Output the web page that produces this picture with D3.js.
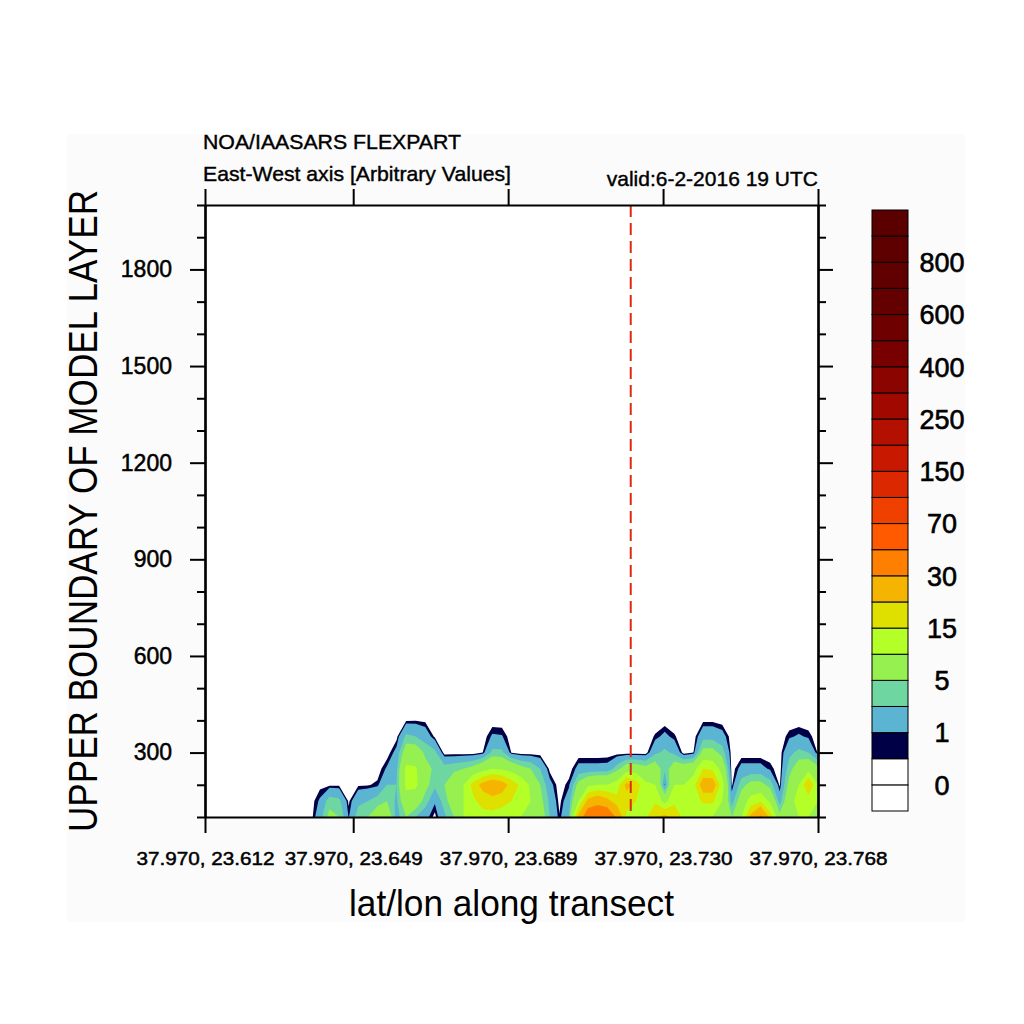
<!DOCTYPE html>
<html><head><meta charset="utf-8">
<script src="https://cdn.jsdelivr.net/npm/d3@7"></script>
<style>
body{margin:0;background:#fff}
svg{display:block}
</style>
</head><body>
<svg id="chart" width="1024" height="1024"></svg>
<script>
// ---------------- DATA ----------------
const titleMain = "NOA/IAASARS FLEXPART";
const titleSub = "East-West axis [Arbitrary Values]";
const titleValid = "valid:6-2-2016 19 UTC";
const xTitle = "lat/lon along transect";
const yTitle = "UPPER BOUNDARY OF MODEL LAYER";

// model layer heights (rows of the field, bottom to top)
const heights = [100, 150, 200, 250, 300, 350, 400, 450];

// concentration profiles along the transect (one per grid column, values at the heights above)
const profiles = [
  [0,0,0,0,0,0,0,0],[0,0,0,0,0,0,0,0],[0,0,0,0,0,0,0,0],[0,0,0,0,0,0,0,0],
  [0,0,0,0,0,0,0,0],[0,0,0,0,0,0,0,0],[0,0,0,0,0,0,0,0],[0,0,0,0,0,0,0,0],
  [0,0,0,0,0,0,0,0],[0,0,0,0,0,0,0,0],[0,0,0,0,0,0,0,0],[0,0,0,0,0,0,0,0],
  [2,1.2,0.2,0,0,0,0,0],
  [6,4,0.3,0,0,0,0,0],
  [5,3.5,0.3,0,0,0,0,0],
  [0.9,0.3,0,0,0,0,0,0],
  [4,2.5,0.35,0,0,0,0,0],
  [5,3,0.4,0,0,0,0,0],
  [7,4,0.7,0,0,0,0,0],
  [8,5,3,1.2,0,0,0,0],
  [2,2.5,3,2.5,1.5,0.2,0,0],
  [5,8,11,11,7,3.5,0.4,0],
  [3,7,11,10.5,7,3,0.45,0],
  [1.5,4,6,6,4.5,2,0.3,0],
  [0.2,1.2,3.5,4.5,3.5,0.3,0,0],
  [2.5,4,5,4,0,0,0,0],
  [5,7,7,4.5,0,0,0,0],
  [10,10,10,5,0,0,0,0],
  [12,14,17,6,0,0,0,0],
  [13,17,22,8,0.5,0,0,0],
  [13,18,25,10,3.5,1.2,0,0],
  [12,17,23,9,3.5,1.1,0,0],
  [11,15,18,8,0.4,0,0,0],
  [10,13,14,6,0,0,0,0],
  [9,10,9,5,0,0,0,0],
  [7,6,5,3,0,0,0,0],
  [3,2.5,1.5,0.2,0,0,0,0],
  [0.6,0.2,0,0,0,0,0,0],
  [3,2,0.8,0,0,0,0,0],
  [22,10,6,1.5,0,0,0,0],
  [40,22,9,1.5,0,0,0,0],
  [45,25,10,1.5,0,0,0,0],
  [42,22,10,1.6,0,0,0,0],
  [28,17,12,4,0,0,0,0],
  [14,17,22,7,0,0,0,0],
  [12,15,18,7,0,0,0,0],
  [14,12,11,6,0,0,0,0],
  [20,14,10,7,2.5,0.6,0,0],
  [22,8,0.8,3.5,3.5,1.4,0,0],
  [18,14,10,7,2.5,0.6,0,0],
  [14,12,10,7,0,0,0,0],
  [12,12,13,8,0.5,0,0,0],
  [10,16,24,15,6,2.2,0.3,0],
  [10,16,24,14,6,2.2,0.3,0],
  [8,10,12,8,4,1.6,0.1,0],
  [5,2,0.3,0,0,0,0,0],
  [10,7,4,1.5,0,0,0,0],
  [22,12,6,1.5,0,0,0,0],
  [32,14,6,1.5,0,0,0,0],
  [18,9,4,0.8,0,0,0,0],
  [6,2,0.3,0,0,0,0,0],
  [8,8,6,4,2.5,0.8,0,0],
  [10,12,10,7,3.5,1.2,0,0],
  [10,12,20.5,8,3,0.8,0,0],
  [9,10,10,6,0.3,0,0,0]
];

// contour levels and colours (bands: below level 0, between levels, above last)
const levels = [0,0.5,1,3,5,10,15,20,30,50,70,100,150,200,250,300,400,500,600,700,800,900];
const bandColors = [
  "#ffffff","#ffffff","#000046","#5ab4d2","#6ed6a0","#96f050","#b4ff28","#e0e000",
  "#f5b400","#ff8000","#ff5a00","#f04000","#dc2800","#c81800","#b41000","#a00800",
  "#8c0400","#780000","#6e0000","#640000","#600000","#5e0000","#5a0000"
];

// transect axis
const transectPoints = 91;
const xTickPoints = [0, 22, 45, 68, 91];
const xTickLabels = ["37.970, 23.612","37.970, 23.649","37.970, 23.689","37.970, 23.730","37.970, 23.768"];
const sitePoint = 63.2;

// height axis
const yDomain = [100, 2000];
const yMajorTicks = [300, 600, 900, 1200, 1500, 1800];
const yMinorTicks = [100,200,400,500,700,800,1000,1100,1300,1400,1600,1700,1900,2000];

// ---------------- DRAW ----------------
const FONT = "'Liberation Sans', Arial, Helvetica, sans-serif";
const svg = d3.select("#chart");
const L = 205, R = 818, T = 205, B = 817;

svg.append("rect").attr("x",0).attr("y",0).attr("width",1024).attr("height",1024).attr("fill","#ffffff");
svg.append("rect").attr("x",67).attr("y",134).attr("width",898).attr("height",788).attr("fill","#fbfbfb");
svg.append("rect").attr("x",L).attr("y",T).attr("width",R-L).attr("height",B-T).attr("fill","#ffffff");

const xScale = d3.scaleLinear().domain([0, transectPoints]).range([L, R]);
const yScale = d3.scaleLinear().domain(yDomain).range([B, T]);

const nCols = profiles.length, nRows = heights.length;
const colScale = d3.scaleLinear().domain([0, nCols - 1]).range([L, R]);
const rowScale = d3.scaleLinear().domain(d3.range(nRows)).range(heights);

const values = new Array(nCols * nRows);
for (let r = 0; r < nRows; r++)
  for (let c = 0; c < nCols; c++) values[r * nCols + c] = profiles[c][r];

const contours = d3.contours().size([nCols, nRows]).thresholds(levels.slice(1))(values);
const proj = d3.geoTransform({
  point(x, y) { this.stream.point(colScale(x - 0.5), yScale(rowScale(y - 0.5))); }
});
const path = d3.geoPath(proj);

svg.append("clipPath").attr("id","plotclip")
  .append("rect").attr("x",L).attr("y",T).attr("width",R-L).attr("height",B-T);

svg.append("g").attr("clip-path","url(#plotclip)")
  .selectAll("path").data(contours).join("path")
  .attr("d", path)
  .attr("fill", d => bandColors[levels.indexOf(d.value) + 1])
  .attr("stroke","none");

// site marker (dashed line)
svg.append("line")
  .attr("x1", xScale(sitePoint)).attr("x2", xScale(sitePoint))
  .attr("y1", T).attr("y2", B)
  .attr("stroke","#e02a10").attr("stroke-width",2).attr("stroke-dasharray","12,6");

function styleAxis(g, fontSize) {
  g.attr("font-family", FONT).attr("font-size", fontSize);
  g.select(".domain").attr("stroke","#000").attr("stroke-width",2.2);
  g.selectAll(".tick line").attr("stroke","#000").attr("stroke-width",2);
  g.selectAll(".tick text").attr("fill","#000").attr("stroke","#000").attr("stroke-width",0.5);
}

// minor ticks left & right
svg.append("g").attr("transform",`translate(${L},0)`)
  .call(d3.axisLeft(yScale).tickValues(yMinorTicks).tickSize(8).tickSizeOuter(0).tickFormat(""))
  .call(g => styleAxis(g, 23));
svg.append("g").attr("transform",`translate(${R},0)`)
  .call(d3.axisRight(yScale).tickValues(yMinorTicks).tickSize(8).tickSizeOuter(0).tickFormat(""))
  .call(g => styleAxis(g, 23));
// major ticks
svg.append("g").attr("transform",`translate(${L},0)`)
  .call(d3.axisLeft(yScale).tickValues(yMajorTicks).tickSize(15).tickSizeOuter(0).tickPadding(18).tickFormat(d3.format("d")))
  .call(g => styleAxis(g, 23));
svg.append("g").attr("transform",`translate(${R},0)`)
  .call(d3.axisRight(yScale).tickValues(yMajorTicks).tickSize(15).tickSizeOuter(0).tickFormat(""))
  .call(g => styleAxis(g, 23));
svg.append("g").attr("transform",`translate(0,${T})`)
  .call(d3.axisTop(xScale).tickValues(xTickPoints).tickSize(16).tickSizeOuter(0).tickFormat(""))
  .call(g => styleAxis(g, 18));
svg.append("g").attr("transform",`translate(0,${B})`)
  .call(d3.axisBottom(xScale).tickValues(xTickPoints).tickSize(16).tickSizeOuter(0).tickPadding(19)
        .tickFormat((d, i) => xTickLabels[i]))
  .call(g => styleAxis(g, 19))
  .call(g => g.selectAll(".tick text").attr("textLength",138).attr("lengthAdjust","spacingAndGlyphs"));

// titles
svg.append("text").attr("x",203).attr("y",149).attr("font-family",FONT).attr("font-size",21)
  .attr("stroke","#000").attr("stroke-width",0.4)
  .attr("textLength",258).attr("lengthAdjust","spacingAndGlyphs").text(titleMain);
svg.append("text").attr("x",203).attr("y",181).attr("font-family",FONT).attr("font-size",21)
  .attr("stroke","#000").attr("stroke-width",0.4)
  .attr("textLength",308).attr("lengthAdjust","spacingAndGlyphs").text(titleSub);
svg.append("text").attr("x",R).attr("y",186).attr("text-anchor","end").attr("font-family",FONT).attr("font-size",21)
  .attr("stroke","#000").attr("stroke-width",0.4)
  .text(titleValid);

svg.append("text").attr("x",(L+R)/2).attr("y",916).attr("text-anchor","middle")
  .attr("font-family",FONT).attr("font-size",36)
  .attr("textLength",325).attr("lengthAdjust","spacingAndGlyphs").text(xTitle);
svg.append("text").attr("transform",`translate(97,${(T+B)/2}) rotate(-90)`).attr("text-anchor","middle")
  .attr("font-family",FONT).attr("font-size",40)
  .attr("textLength",642).attr("lengthAdjust","spacingAndGlyphs").text(yTitle);

// colour bar
const cbX = 872, cbW = 36, cbTop = 210, cbBot = 811;
const cbScale = d3.scaleLinear().domain([0, bandColors.length]).range([cbBot, cbTop]);
const cb = svg.append("g");
cb.selectAll("rect").data(bandColors).join("rect")
  .attr("x", cbX).attr("width", cbW)
  .attr("y", (d, i) => cbScale(i + 1)).attr("height", (d, i) => cbScale(i) - cbScale(i + 1))
  .attr("fill", d => d).attr("stroke","#000").attr("stroke-width",1);
cb.selectAll("text").data(levels.map((v, i) => ({v, i})).filter(d => d.i % 2 === 0)).join("text")
  .attr("x", 942).attr("y", d => cbScale(d.i + 1)).attr("dy","0.36em")
  .attr("text-anchor","middle").attr("font-family",FONT).attr("font-size",27)
  .attr("stroke","#000").attr("stroke-width",0.6)
  .text(d => d.v);
</script>
</body></html>
